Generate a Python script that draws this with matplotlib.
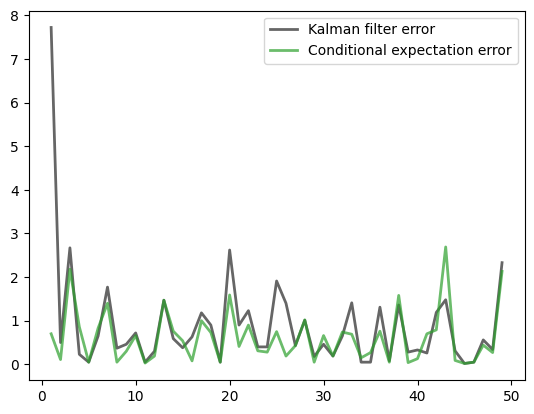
import numpy as np
import matplotlib
matplotlib.use("Agg")
import matplotlib.pyplot as plt

steps = np.arange(1, 50)
kalman_err = [7.72, 0.5, 2.67, 0.23, 0.05, 0.65, 1.77, 0.37, 0.46, 0.72,
              0.05, 0.3, 1.47, 0.59, 0.38, 0.63, 1.18, 0.9, 0.05, 2.62,
              0.9, 1.23, 0.4, 0.4, 1.91, 1.4, 0.43, 1.01, 0.18, 0.46,
              0.19, 0.65, 1.41, 0.05, 0.05, 1.31, 0.08, 1.36, 0.28, 0.33,
              0.26, 1.19, 1.48, 0.31, 0.02, 0.05, 0.56, 0.34, 2.33]
cond_err = [0.7, 0.11, 2.18, 0.86, 0.05, 0.83, 1.4, 0.05, 0.3, 0.66,
            0.03, 0.19, 1.47, 0.76, 0.54, 0.08, 1.0, 0.73, 0.05, 1.59,
            0.41, 0.9, 0.31, 0.28, 0.75, 0.19, 0.43, 1.02, 0.05, 0.66,
            0.19, 0.74, 0.69, 0.15, 0.27, 0.76, 0.05, 1.58, 0.04, 0.13,
            0.7, 0.79, 2.69, 0.09, 0.02, 0.05, 0.44, 0.27, 2.13]

plt.figure()
plt.plot(steps, kalman_err, color="k", alpha=0.6, lw=2, label="Kalman filter error")
plt.plot(steps, cond_err, color="tab:green", alpha=0.7, lw=2, label="Conditional expectation error")
plt.legend()
plt.savefig("out.png", bbox_inches="tight")
